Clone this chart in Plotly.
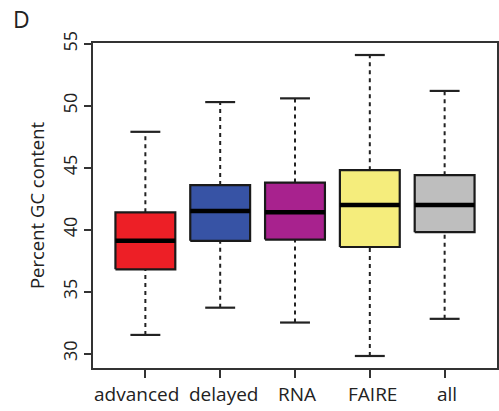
import plotly.graph_objects as go

# Summary statistics of GC content per region class
categories = ["advanced", "delayed", "RNA", "FAIRE", "all"]
lower_whisker = [31.5, 33.7, 32.5, 29.8, 32.8]
q1 = [36.8, 39.1, 39.2, 38.6, 39.8]
median = [39.1, 41.5, 41.4, 42.0, 42.0]
q3 = [41.4, 43.6, 43.8, 44.8, 44.4]
upper_whisker = [47.9, 50.3, 50.6, 54.1, 51.2]
fill_colors = ["#ED1F26", "#3753A5", "#A8228E", "#F5ED7C", "#BEBEBE"]
y_ticks = [30, 35, 40, 45, 50, 55]
# small horizontal nudges (px) for the category labels so neighbours don't collide
label_nudge = [-9, 3, 2, 3, 2]

positions = list(range(1, len(categories) + 1))
half_box = 0.4
half_cap = 0.2

fig = go.Figure()

# dashed whiskers
wx, wy = [], []
for p, lo, a, b, hi in zip(positions, lower_whisker, q1, q3, upper_whisker):
    wx += [p, p, None, p, p, None]
    wy += [lo, a, None, b, hi, None]
fig.add_trace(go.Scatter(x=wx, y=wy, mode="lines",
                         line=dict(color="#222222", width=2, dash="4px,4px"),
                         hoverinfo="skip", showlegend=False))

# whisker caps
cx, cy = [], []
for p, lo, hi in zip(positions, lower_whisker, upper_whisker):
    cx += [p - half_cap, p + half_cap, None, p - half_cap, p + half_cap, None]
    cy += [lo, lo, None, hi, hi, None]
fig.add_trace(go.Scatter(x=cx, y=cy, mode="lines",
                         line=dict(color="#222222", width=2.2),
                         hoverinfo="skip", showlegend=False))

# boxes
for p, a, b, col, name in zip(positions, q1, q3, fill_colors, categories):
    fig.add_trace(go.Scatter(
        x=[p - half_box, p + half_box, p + half_box, p - half_box, p - half_box],
        y=[a, a, b, b, a],
        mode="lines", fill="toself", fillcolor=col,
        line=dict(color="#1a1a1a", width=2.2),
        name=name, showlegend=False, hoverinfo="skip"))

# medians
mx, my = [], []
for p, m in zip(positions, median):
    mx += [p - half_box, p + half_box, None]
    my += [m, m, None]
fig.add_trace(go.Scatter(x=mx, y=my, mode="lines",
                         line=dict(color="#000000", width=4.5),
                         hoverinfo="skip", showlegend=False))

font_family = "Open Sans"

annotations = [dict(text="D", xref="paper", yref="paper",
                    x=-82 / 406, xanchor="left",
                    y=1 + 42 / 325, yanchor="top", showarrow=False,
                    font=dict(family=font_family, size=23, color="#222222"))]
# category labels under each box
for p, name, dx in zip(positions, categories, label_nudge):
    annotations.append(dict(text=name, xref="x", yref="paper", x=p, y=0,
                            xanchor="center", yanchor="top", xshift=dx,
                            yshift=-11, showarrow=False,
                            font=dict(family=font_family, size=19,
                                      color="#222222")))

fig.update_layout(
    width=499, height=411,
    margin=dict(l=93, r=0, t=43, b=43),
    paper_bgcolor="white", plot_bgcolor="white",
    font=dict(family=font_family, size=18, color="#222222"),
    annotations=annotations,
    xaxis=dict(range=[0.3, 5.7], tickmode="array", tickvals=positions,
               showticklabels=False, showgrid=False, zeroline=False,
               showline=True, linecolor="#333333", linewidth=2, mirror=True,
               ticks="outside", ticklen=8, tickwidth=2, tickcolor="#333333"),
    yaxis=dict(range=[28.83, 55.07], tickmode="array", tickvals=y_ticks,
               showgrid=False, zeroline=False,
               showline=True, linecolor="#333333", linewidth=2, mirror=True,
               ticks="outside", ticklen=7, tickwidth=1.5, tickcolor="#333333",
               tickangle=-90, tickfont=dict(size=18, color="#222222"),
               title=dict(text="Percent GC content", standoff=8,
                          font=dict(size=18.5, color="#222222"))),
)

fig.write_html("out.html")
